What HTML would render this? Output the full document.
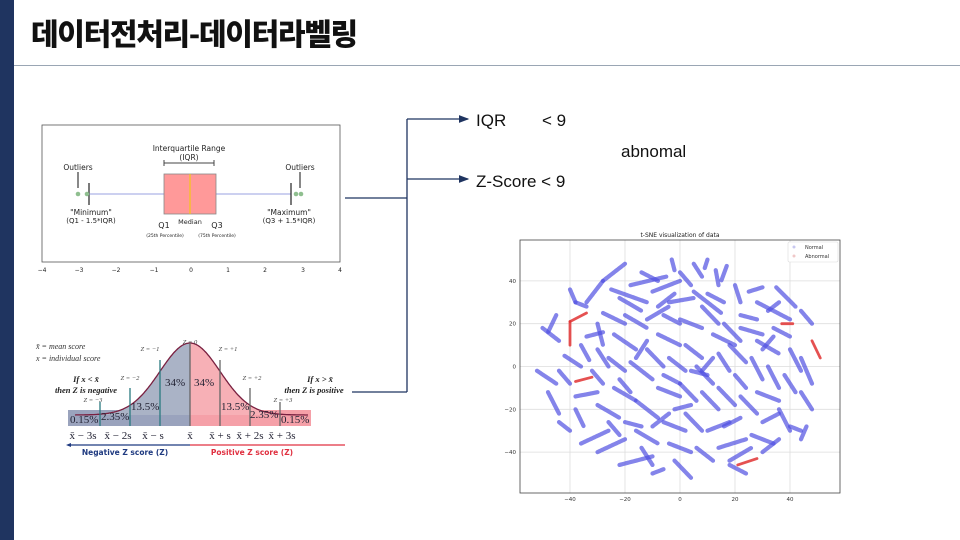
<!DOCTYPE html>
<html><head><meta charset="utf-8">
<style>
html,body{margin:0;padding:0;}
body{width:960px;height:540px;position:relative;background:#fff;overflow:hidden;font-family:"Liberation Sans","Noto Sans CJK KR",sans-serif;}
.abs{position:absolute;}
</style></head>
<body>
<div class="abs" style="left:0;top:0;width:14px;height:540px;background:#1f3460;"></div>
<div class="abs" style="left:31px;top:12px;font-family:'Noto Sans CJK KR',sans-serif;font-weight:900;font-size:30px;letter-spacing:-1.3px;color:#111;line-height:40px;">데이터전처리-데이터라벨링</div>
<div class="abs" style="left:14px;top:65px;width:946px;height:1px;background:#9aa6b4;"></div>

<svg class="abs" style="left:0;top:0" width="960" height="540">
<defs><marker id="ah" markerWidth="8" markerHeight="8" refX="7" refY="4" orient="auto"><path d="M0,1 L8,4 L0,7 z" fill="#1f3460"/></marker></defs>
<g stroke="#1f3460" stroke-width="1.3" fill="none">
<line x1="345" y1="198" x2="407" y2="198"/>
<line x1="352" y1="392" x2="407" y2="392"/>
<line x1="407" y1="119" x2="407" y2="392"/>
<line x1="407" y1="119" x2="468" y2="119" marker-end="url(#ah)"/>
<line x1="407" y1="179" x2="468" y2="179" marker-end="url(#ah)"/>
</g>
<text x="476" y="126" font-size="17" fill="#111" font-family="Liberation Sans">IQR</text>
<text x="542" y="126" font-size="17" fill="#111" font-family="Liberation Sans">&lt; 9</text>
<text x="621" y="157" font-size="17" fill="#111" font-family="Liberation Sans">abnomal</text>
<text x="476" y="187" font-size="17" fill="#111" font-family="Liberation Sans">Z-Score &lt; 9</text>

<g font-family="DejaVu Sans" fill="#222">
<rect x="42" y="125" width="298" height="137" fill="none" stroke="#555" stroke-width="0.8"/>
<line x1="89" y1="194" x2="291" y2="194" stroke="#9aa0e0" stroke-width="1"/>
<rect x="164" y="174" width="52" height="40" fill="#f99" stroke="#888" stroke-width="0.8"/>
<line x1="190" y1="174" x2="190" y2="214" stroke="#f5c518" stroke-width="1.2"/>
<line x1="89" y1="183" x2="89" y2="205" stroke="#222" stroke-width="1.2"/>
<line x1="291" y1="183" x2="291" y2="205" stroke="#222" stroke-width="1.2"/>
<circle cx="78" cy="194" r="2.3" fill="#8fbf8f"/><circle cx="87" cy="194" r="2.3" fill="#8fbf8f"/>
<circle cx="296" cy="194" r="2.3" fill="#8fbf8f"/><circle cx="301" cy="194" r="2.3" fill="#8fbf8f"/>
<line x1="164" y1="163" x2="214" y2="163" stroke="#444"/><line x1="164" y1="160" x2="164" y2="166" stroke="#444"/><line x1="214" y1="160" x2="214" y2="166" stroke="#444"/>
<text x="189" y="151" font-size="7.5" text-anchor="middle">Interquartile Range</text>
<text x="189" y="160" font-size="7.5" text-anchor="middle">(IQR)</text>
<text x="78" y="170" font-size="7.5" text-anchor="middle">Outliers</text>
<text x="300" y="170" font-size="7.5" text-anchor="middle">Outliers</text>
<line x1="78" y1="172" x2="78" y2="188" stroke="#111"/><line x1="300" y1="172" x2="300" y2="188" stroke="#111"/>
<text x="91" y="215" font-size="7.5" text-anchor="middle">"Minimum"</text>
<text x="91" y="223" font-size="7" text-anchor="middle">(Q1 - 1.5*IQR)</text>
<text x="289" y="215" font-size="7.5" text-anchor="middle">"Maximum"</text>
<text x="289" y="223" font-size="7" text-anchor="middle">(Q3 + 1.5*IQR)</text>
<text x="164" y="228" font-size="8" text-anchor="middle">Q1</text>
<text x="190" y="224" font-size="6.5" text-anchor="middle">Median</text>
<text x="217" y="228" font-size="8" text-anchor="middle">Q3</text>
<text x="165" y="237" font-size="4.5" text-anchor="middle">(25th Percentile)</text>
<text x="217" y="237" font-size="4.5" text-anchor="middle">(75th Percentile)</text>
<g font-size="6" text-anchor="middle">
<text x="42" y="272">−4</text><text x="79" y="272">−3</text><text x="116" y="272">−2</text><text x="154" y="272">−1</text><text x="191" y="272">0</text><text x="228" y="272">1</text><text x="265" y="272">2</text><text x="303" y="272">3</text><text x="340" y="272">4</text>
</g>
</g>

<g font-family="Liberation Serif">
<rect x="68" y="410" width="122" height="16" fill="#9aa3bd"/>
<rect x="190" y="410" width="121" height="16" fill="#f5a0a8"/>
<path id="bellL" d="" fill="#aab3c6"/>
<path id="bellR" d="" fill="#f7b0b6"/>
<path id="bellLine" d="" fill="none" stroke="#7a2040" stroke-width="1.3"/>
<g stroke="#2a7a80" stroke-width="1.3"><line x1="100" y1="402" x2="100" y2="426"/><line x1="130" y1="388" x2="130" y2="426"/><line x1="160" y1="360" x2="160" y2="426"/></g>
<g stroke="#666" stroke-width="1.3"><line x1="190" y1="343" x2="190" y2="426"/><line x1="220" y1="360" x2="220" y2="426"/><line x1="250" y1="388" x2="250" y2="426"/><line x1="280" y1="402" x2="280" y2="426"/></g>
<g font-size="11" fill="#223">
<text x="70" y="423">0.15%</text><text x="101" y="420">2.35%</text><text x="131" y="410">13.5%</text><text x="165" y="386">34%</text><text x="194" y="386">34%</text><text x="221" y="410">13.5%</text><text x="250" y="418">2.35%</text><text x="281" y="423">0.15%</text>
</g>
<g font-size="6.5" font-style="italic" fill="#444" text-anchor="middle">
<text x="190" y="344">Z = 0</text><text x="150" y="351">Z = −1</text><text x="228" y="351">Z = +1</text><text x="130" y="380">Z = −2</text><text x="252" y="380">Z = +2</text><text x="93" y="402">Z = −3</text><text x="283" y="402">Z = +3</text>
</g>
<g font-size="8" font-style="italic" fill="#333"><text x="36" y="349">x̄ = mean score</text><text x="36" y="361">x = individual score</text></g>
<g font-size="8.5" font-style="italic" font-weight="bold" fill="#222" text-anchor="middle"><text x="86" y="382">If x &lt; x̄</text><text x="86" y="393">then Z is negative</text><text x="320" y="382">If x &gt; x̄</text><text x="314" y="393">then Z is positive</text></g>
<g font-size="11" fill="#223" text-anchor="middle"><text x="83" y="439">x̄ − 3s</text><text x="118" y="439">x̄ − 2s</text><text x="153" y="439">x̄ − s</text><text x="190" y="439">x̄</text><text x="220" y="439">x̄ + s</text><text x="250" y="439">x̄ + 2s</text><text x="282" y="439">x̄ + 3s</text></g>
<line x1="68" y1="445" x2="190" y2="445" stroke="#1f3a80" stroke-width="1.2"/><path d="M66,445 l5,-2 v4z" fill="#1f3a80"/>
<line x1="190" y1="445" x2="345" y2="445" stroke="#e03040" stroke-width="1.2"/>
<text x="125" y="455" font-size="7.5" font-weight="bold" fill="#1f3a80" font-family="DejaVu Sans" text-anchor="middle">Negative Z score (Z)</text>
<text x="252" y="455" font-size="7.5" font-weight="bold" fill="#e03040" font-family="DejaVu Sans" text-anchor="middle">Positive Z score (Z)</text>
</g>
</svg>

<svg class="abs" style="left:0;top:0" width="960" height="540" id="tsne" font-family="DejaVu Sans"></svg>

<script>
(function(){
  function y(x){return 415-72*Math.exp(-Math.pow((x-190)/30,2)/2);}
  let L='M75,415',R='M190,415',line='';
  for(let x=75;x<=190;x++)L+=' L'+x+','+y(x).toFixed(1);
  L+=' L190,415 Z';
  for(let x=190;x<=308;x++)R+=' L'+x+','+y(x).toFixed(1);
  R+=' L308,415 Z';
  for(let x=75;x<=308;x++)line+=(x==75?'M':' L')+x+','+y(x).toFixed(1);
  document.getElementById('bellL').setAttribute('d',L);
  document.getElementById('bellR').setAttribute('d',R);
  document.getElementById('bellLine').setAttribute('d',line);
})();
</script>
<script>
const xTicks=[-40,-20,0,20,40];
const yTicks=[-40,-20,0,20,40];
const normalSegments=[
[-20,48,-28,40],[-28,40,-34,30],[-25,36,-12,30],[-18,38,-5,42],[-10,35,0,40],[-3,50,-2,45],[5,48,8,42],[9,46,10,50],[13,45,14,38],[17,47,15,40],[-4,30,5,32],[5,35,15,25],[20,38,22,30],[25,35,30,37],[35,37,42,28],[44,26,48,20],[28,30,40,22],[-38,30,-34,28],[-40,36,-38,30],
[-50,18,-44,12],[-45,24,-48,16],[-52,-2,-45,-8],[-48,-12,-44,-22],[-42,5,-36,0],[-44,-2,-40,-8],[-38,-20,-35,-28],[-36,10,-33,3],[-38,-14,-30,-12],[-30,20,-28,10],[-32,-2,-28,-8],
[-28,25,-20,20],[-24,15,-16,8],[-20,24,-12,18],[-12,22,-4,28],[-8,15,0,10],[0,22,8,18],[8,28,14,20],[12,15,20,10],[22,18,30,15],[28,12,36,6],[34,18,40,14],[40,8,44,-2],[44,4,48,-8],
[-26,4,-20,-2],[-18,2,-10,-6],[-12,8,-6,0],[-4,4,2,-2],[2,10,8,4],[6,0,12,-8],[14,6,18,-2],[18,10,24,2],[26,4,30,-6],[32,0,36,-10],[38,-4,42,-12],[44,-12,48,-20],
[-30,-18,-22,-24],[-24,-10,-16,-16],[-16,-16,-8,-24],[-8,-10,0,-14],[0,-8,6,-16],[8,-12,14,-20],[14,-10,20,-18],[22,-14,28,-22],[28,-12,36,-16],[36,-20,40,-30],
[-36,-36,-26,-30],[-30,-40,-20,-34],[-22,-46,-10,-42],[-16,-30,-8,-36],[-6,-26,2,-30],[-4,-36,4,-40],[2,-22,8,-30],[6,-38,12,-44],[10,-30,18,-26],[14,-38,24,-34],[18,-44,26,-38],[26,-32,34,-36],[30,-26,36,-22],[-10,-50,-6,-48],[-2,-44,4,-52],[-14,-38,-10,-46],
[-22,32,-14,26],[-6,24,0,20],[10,34,16,30],[22,24,28,22],[-34,14,-28,16],[-16,4,-12,12],[20,-4,24,-10],[8,-2,12,4],[-2,-20,4,-18],[-20,-26,-14,-28],[40,-28,44,-30],[44,-34,46,-28],
[-14,44,-8,40],[0,44,4,38],[-30,8,-26,0],[-22,-6,-18,-12],[-10,-28,-4,-22],[4,-2,10,-4],[16,-28,22,-24],[30,-40,36,-34],[-26,-26,-22,-32],[-8,28,-2,34],[16,20,22,12],[32,26,36,30],[-44,-26,-40,-30],[24,-50,18,-46],[-6,-4,0,-8],[30,8,34,14]
];
const abnormalSegments=[[-40,10,-40,21],[-40,21,-34,25],[-38,-7,-32,-5],[21,-46,28,-43],[48,12,51,4],[37,20,41,20]];

const svg=document.getElementById('tsne');
const NS='http://www.w3.org/2000/svg';
const X0=520,X1=840,Y0=240,Y1=493;
function sx(v){return 680+v*2.75;}
function sy(v){return 366.5-v*2.14;}
function mk(tag,attrs,parent){const e=document.createElementNS(NS,tag);for(const k in attrs)e.setAttribute(k,attrs[k]);(parent||svg).appendChild(e);return e;}

const title=mk('text',{x:680,y:237,'font-size':'6','text-anchor':'middle',fill:'#222'});
title.textContent='t-SNE visualization of data';


xTicks.forEach(t=>{
  const g=mk('line',{x1:sx(t),x2:sx(t),y1:Y0,y2:Y1,stroke:'#ddd','stroke-width':0.8});
  
  
  const l=mk('text',{x:sx(t),y:Y1+8,'font-size':'5.5','text-anchor':'middle',fill:'#333'});
  l.textContent=t<0?'−'+(-t):t;
  
  
});
yTicks.forEach(t=>{
  const g=mk('line',{x1:X0,x2:X1,y1:sy(t),y2:sy(t),stroke:'#ddd','stroke-width':0.8});
  
  
  const l=mk('text',{x:X0-4,y:sy(t)+2,'font-size':'5.5','text-anchor':'end',fill:'#333'});
  l.textContent=t<0?'−'+(-t):t;
  
  
});
const frame=mk('rect',{x:X0,y:Y0,width:X1-X0,height:Y1-Y0,fill:'none',stroke:'#444','stroke-width':0.8});


normalSegments.forEach(s=>{
  const e=mk('line',{x1:sx(s[0]),y1:sy(s[1]),x2:sx(s[2]),y2:sy(s[3]),stroke:'rgba(80,80,225,0.7)','stroke-width':4.2,'stroke-linecap':'round','stroke-dasharray':'2.5 0.7'});
  
  
});
abnormalSegments.forEach(s=>{
  const e=mk('line',{x1:sx(s[0]),y1:sy(s[1]),x2:sx(s[2]),y2:sy(s[3]),stroke:'rgba(225,50,50,0.85)','stroke-width':2.8,'stroke-linecap':'round'});
  
  
});
const lg=mk('rect',{x:788,y:242,width:50,height:20,fill:'#fff',stroke:'#ddd','stroke-width':0.6,rx:1.5});


[['Normal','#c8c8f0',249],['Abnormal','#f0c8c8',258]].forEach(r=>{
  const c=mk('circle',{cx:794,cy:r[2]-2,r:1.5,fill:r[1]});
  
  
  const t=mk('text',{x:805,y:r[2],'font-size':'5','fill':'#333'});
  t.textContent=r[0];
  
  
});
</script>
</body></html>
